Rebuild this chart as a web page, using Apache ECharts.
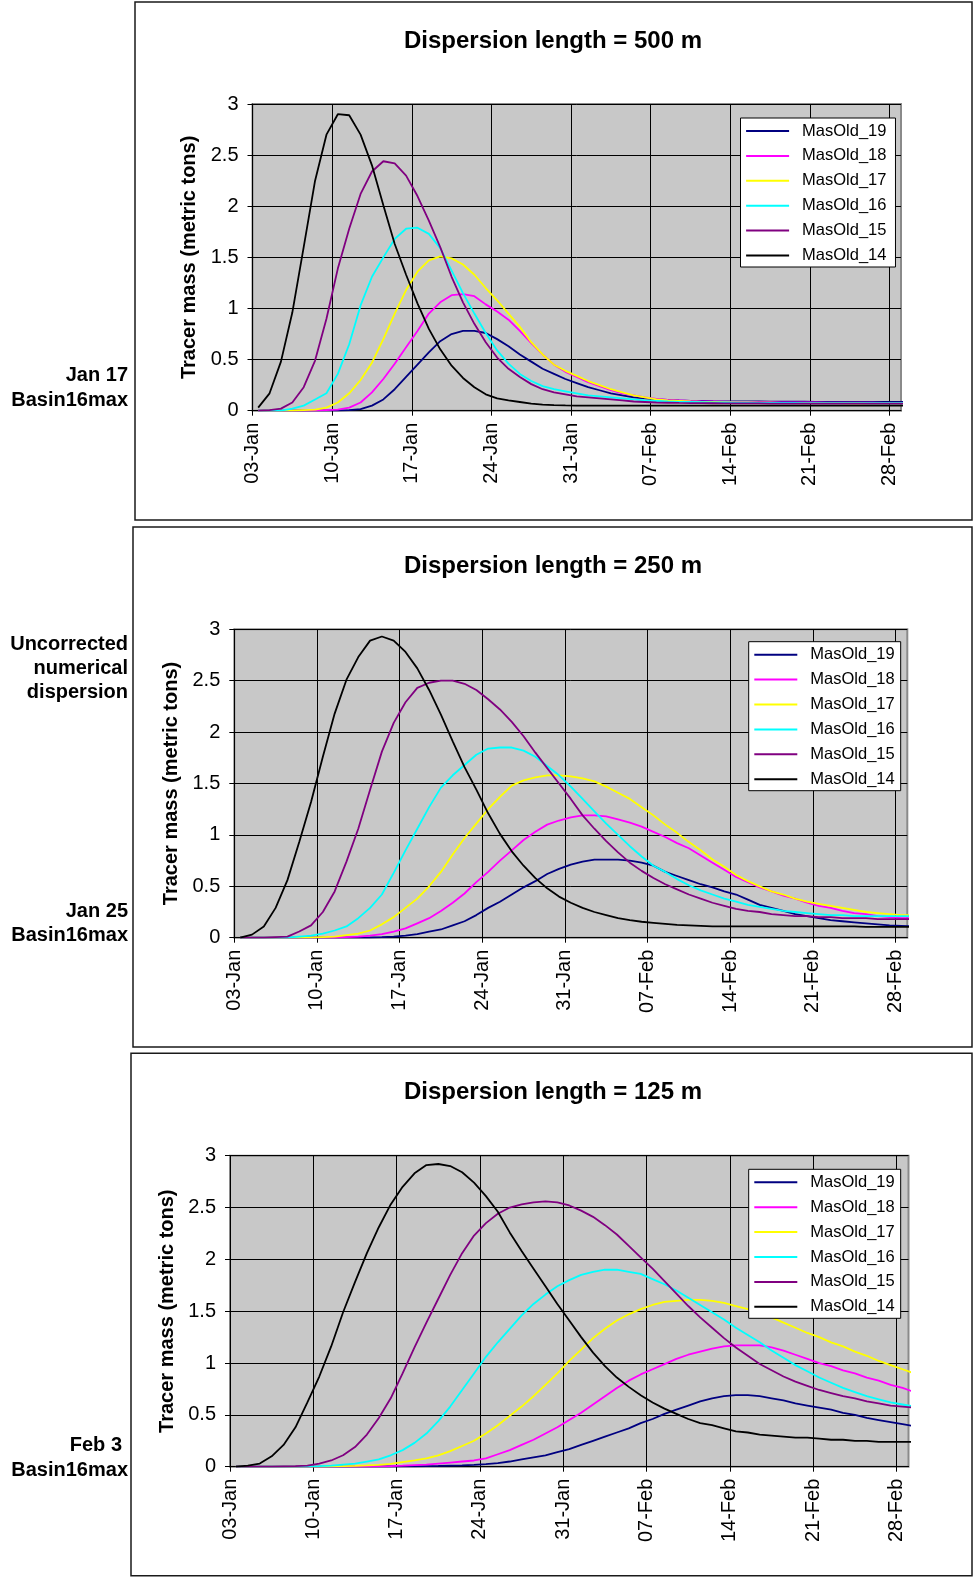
<!DOCTYPE html>
<html>
<head>
<meta charset="utf-8">
<script src="https://cdn.jsdelivr.net/npm/echarts@6/dist/echarts.min.js"></script>
<style>
  html, body { margin: 0; padding: 0; background: #fff; }
  #chart { width: 975px; height: 1579px; }
</style>
</head>
<body>
<div id="chart"></div>
<script>
// series names / colours (legend order)
const seriesNames = ['MasOld_19', 'MasOld_18', 'MasOld_17', 'MasOld_16', 'MasOld_15', 'MasOld_14']
const seriesColors = ['#000080', '#FF00FF', '#FFFF00', '#00FFFF', '#800080', '#000000']
const xTickLabels = ['03-Jan', '10-Jan', '17-Jan', '24-Jan', '31-Jan', '07-Feb', '14-Feb', '21-Feb', '28-Feb']

// daily values (one per day from 03-Jan), dispersion length 500 m
const p1_19 = [0,0,0,0,0,0,0,0.002, 0.005,0.015,0.05,0.11,0.21, 0.33,0.45,0.57,0.68,0.75,0.78,0.78, 0.76,0.70,0.63,0.55,0.48,0.41,0.36,0.31, 0.27,0.23,0.20,0.17,0.15,0.13,0.12,0.11, 0.105,0.10,0.097,0.095,0.093,0.092,0.091,0.09,0.09,0.089,0.089,0.088,0.088,0.087,0.087,0.087,0.086,0.086,0.086,0.085,0.085,0.085]
const p1_18 = [0,0,0,0,0,0,0.005, 0.01,0.03,0.08,0.18,0.31,0.46, 0.62,0.78,0.95,1.06,1.13,1.14,1.12, 1.04,0.97,0.89,0.78,0.66,0.55,0.45,0.38, 0.33,0.28,0.24,0.20,0.17,0.15,0.13,0.115, 0.105,0.10,0.095,0.092,0.09,0.088,0.086,0.085,0.084,0.083,0.082,0.081,0.08,0.08,0.079,0.079,0.078,0.078,0.078,0.077,0.077,0.077]
const p1_17 = [0,0,0,0,0.005,0.01, 0.03,0.08,0.17,0.30,0.47,0.70,0.95, 1.18,1.36,1.47,1.51,1.49,1.43,1.33, 1.20,1.08,0.95,0.82,0.67,0.55,0.45,0.39, 0.34,0.29,0.25,0.21,0.18,0.15,0.13,0.11, 0.10,0.095,0.09,0.087,0.085,0.083,0.081,0.08,0.079,0.078,0.077,0.076,0.075,0.075,0.074,0.074,0.073,0.073,0.072,0.072,0.072,0.071]
const p1_16 = [0,0,0,0.02,0.05,0.11,0.17, 0.36,0.65,1.03,1.31,1.50,1.68,1.78, 1.79,1.73,1.59,1.37,1.15,0.95,0.76, 0.59,0.46,0.36,0.29,0.24,0.21,0.19,0.17, 0.15,0.14,0.13,0.12,0.11,0.10,0.095, 0.09,0.087,0.085,0.083,0.081,0.08,0.079,0.078,0.077,0.077,0.076,0.076,0.075,0.075,0.075,0.074,0.074,0.074,0.073,0.073,0.073,0.073]
const p1_15 = [0,0.005,0.02,0.08,0.23,0.49,0.90, 1.39,1.78,2.12,2.34,2.44,2.42,2.30, 2.10,1.86,1.60,1.31,1.06,0.85,0.67, 0.52,0.41,0.33,0.26,0.21,0.18,0.16,0.14, 0.13,0.12,0.11,0.10,0.09,0.085,0.08, 0.078,0.076,0.075,0.074,0.073,0.072,0.072,0.071,0.071,0.07,0.07,0.07,0.07,0.07,0.069,0.069,0.069,0.069,0.069,0.069,0.069,0.069]
const p1_14 = [0.03,0.17,0.48,0.96,1.60,2.25,2.70, 2.90,2.89,2.70,2.40,2.01,1.63,1.33, 1.05,0.80,0.60,0.44,0.32,0.23,0.16, 0.12,0.10,0.085,0.07,0.06,0.055,0.052,0.05, 0.05,0.05,0.05,0.05,0.05,0.05,0.05,0.05,0.05,0.05,0.05,0.05,0.05,0.05,0.05,0.05,0.05,0.05,0.05,0.05,0.05,0.05,0.05,0.05,0.05,0.05,0.05,0.05,0.05]

// dispersion length 250 m
const p2_19 = [0,0,0,0,0,0,0,0,0,0,0, 0.002,0.005,0.01,0.02,0.035,0.06,0.08, 0.12,0.16,0.22,0.29,0.35,0.42,0.49,0.55, 0.62,0.67,0.71,0.74,0.76,0.76,0.76,0.75, 0.73,0.70,0.64,0.60,0.56,0.52,0.49,0.45, 0.42,0.37,0.32,0.29,0.26,0.23,0.21,0.19, 0.17,0.16,0.15,0.14,0.13,0.12,0.115,0.11]
const p2_18 = [0,0,0,0,0,0,0,0,0, 0.005,0.01,0.02,0.035,0.06,0.09,0.14, 0.19,0.26,0.34,0.43,0.54,0.64,0.75,0.85, 0.95,1.03,1.10,1.14,1.17,1.19,1.19,1.18, 1.15,1.12,1.08,1.03,0.98,0.92,0.87,0.80, 0.73,0.66,0.59,0.54,0.49,0.45,0.41,0.38, 0.34,0.31,0.29,0.26,0.24,0.23,0.21,0.20,0.19,0.19]
const p2_17 = [0,0,0,0,0,0,0, 0.005,0.01,0.025,0.04,0.07,0.13,0.20, 0.29,0.38,0.50,0.64,0.81,0.97,1.11,1.25, 1.37,1.48,1.53,1.56,1.58,1.58,1.57,1.55, 1.52,1.47,1.41,1.35,1.27,1.19,1.10,1.02, 0.93,0.85,0.76,0.69,0.61,0.55,0.50,0.45, 0.42,0.38,0.35,0.33,0.31,0.29,0.27,0.25,0.24,0.23,0.22,0.22]
const p2_16 = [0,0,0,0,0, 0.01,0.02,0.04,0.07,0.11,0.19,0.29, 0.42,0.63,0.85,1.06,1.27,1.46,1.58,1.68, 1.78,1.84,1.85,1.85,1.82,1.76,1.67,1.58, 1.47,1.35,1.23,1.11,1.00,0.89,0.79,0.70, 0.64,0.57,0.51,0.46,0.42,0.38,0.35,0.32, 0.30,0.28,0.26,0.25,0.24,0.23,0.22,0.22, 0.21,0.21,0.21,0.21,0.21,0.21]
const p2_15 = [0,0,0,0.005,0.01,0.06,0.12, 0.25,0.45,0.74,1.06,1.44,1.81,2.09, 2.29,2.43,2.48,2.50,2.50,2.47,2.41,2.32, 2.22,2.10,1.96,1.80,1.65,1.50,1.35,1.19, 1.06,0.94,0.83,0.73,0.65,0.58,0.52,0.47, 0.42,0.38,0.34,0.31,0.28,0.26,0.25,0.23, 0.22,0.21,0.21,0.20,0.20,0.19,0.19,0.19,0.18,0.18,0.18,0.18]
const p2_14 = [0,0.03,0.11,0.29,0.56,0.93,1.32, 1.76,2.18,2.51,2.73,2.89,2.93,2.89, 2.78,2.62,2.41,2.17,1.91,1.66,1.44,1.21, 1.01,0.84,0.70,0.58,0.48,0.40,0.34,0.29, 0.25,0.22,0.19,0.17,0.155,0.145,0.135,0.125, 0.12,0.115,0.11,0.11,0.11,0.11,0.11,0.11,0.11,0.11,0.11,0.11,0.11,0.11,0.11,0.105,0.105,0.105,0.105,0.105]

// dispersion length 125 m
const p3_19 = [0,0,0,0,0,0,0,0,0,0,0,0, 0.002,0.002,0.003,0.003,0.005,0.007, 0.01,0.013,0.018,0.025,0.035,0.05,0.07,0.09, 0.11,0.14,0.17,0.21,0.25,0.29,0.33,0.37, 0.42,0.46,0.51,0.55,0.59,0.63,0.66,0.68, 0.69,0.69,0.68,0.66,0.64,0.61,0.59,0.57, 0.55,0.52,0.50,0.47,0.45,0.43,0.41,0.39]
const p3_18 = [0,0,0,0,0,0,0,0,0,0,0, 0.002,0.004,0.006,0.01,0.015,0.02,0.03, 0.04,0.05,0.06,0.08,0.12,0.16,0.21,0.26, 0.32,0.38,0.45,0.52,0.60,0.68,0.76,0.83, 0.89,0.94,0.99,1.04,1.08,1.11,1.14,1.16, 1.17,1.17,1.17,1.15,1.12,1.08,1.04,1.00, 0.97,0.93,0.90,0.86,0.83,0.79,0.76,0.72]
const p3_17 = [0,0,0,0,0,0,0,0, 0.003,0.005,0.008,0.012,0.018,0.028, 0.045,0.06,0.08,0.11,0.15,0.20,0.25,0.32, 0.40,0.49,0.58,0.68,0.79,0.90,1.02,1.13, 1.24,1.33,1.41,1.47,1.52,1.56,1.59,1.60, 1.61,1.61,1.60,1.58,1.55,1.52,1.48,1.44, 1.39,1.34,1.29,1.25,1.20,1.16,1.11,1.07,1.02,0.98,0.94,0.90]
const p3_16 = [0,0,0,0,0,0, 0.002,0.005,0.01,0.02,0.03,0.05,0.07,0.11, 0.16,0.23,0.32,0.44,0.58,0.74,0.90,1.06, 1.20,1.33,1.46,1.57,1.66,1.74,1.80,1.85, 1.88,1.90,1.90,1.88,1.86,1.81,1.76,1.70, 1.63,1.56,1.49,1.42,1.34,1.27,1.20,1.12, 1.05,0.98,0.92,0.86,0.81,0.76,0.72,0.68,0.65,0.62,0.60,0.58]
const p3_15 = [0,0,0,0,0.003,0.005,0.01,0.03, 0.06,0.11,0.19,0.31,0.47,0.66,0.90,1.15, 1.39,1.62,1.85,2.06,2.23,2.35,2.44,2.50, 2.53,2.55,2.56,2.55,2.52,2.47,2.41,2.33, 2.24,2.13,2.02,1.91,1.79,1.67,1.55,1.44, 1.34,1.24,1.15,1.07,0.99,0.93,0.87,0.82, 0.78,0.74,0.71,0.68,0.66,0.63,0.61,0.59,0.58,0.57]
const p3_14 = [0,0.01,0.03,0.10,0.21,0.38,0.62,0.87, 1.16,1.49,1.78,2.06,2.31,2.53,2.70,2.83, 2.91,2.92,2.90,2.84,2.74,2.61,2.46,2.26, 2.08,1.91,1.74,1.57,1.41,1.25,1.10,0.97, 0.86,0.77,0.69,0.62,0.56,0.51,0.46,0.42, 0.40,0.37,0.34,0.33,0.31,0.30,0.29,0.28, 0.28,0.27,0.26,0.26,0.25,0.25,0.24,0.24,0.24,0.24]

const FONT = '"Liberation Sans", Arial, sans-serif'

// layout of the three chart panels (page pixels)
const panels = [
  {
    title: 'Dispersion length = 500 m', titleY: 41.5,
    side: [['Jan 17', 375, 128], ['Basin16max', 400, 128]],
    box: [135, 2, 837, 518],
    grid: { left: 252.5, top: 104, width: 648.5, height: 306.7 },
    legend: { left: 740.5, top: 118, padRight: 9 },
    data: [p1_19, p1_18, p1_17, p1_16, p1_15, p1_14]
  },
  {
    title: 'Dispersion length = 250 m', titleY: 566.5,
    side: [['Uncorrected', 644, 128], ['numerical', 668, 128], ['dispersion', 692, 128],
      ['Jan 25', 911, 128], ['Basin16max', 935, 128]],
    box: [133, 527, 839, 520],
    grid: { left: 234.3, top: 629.3, width: 673, height: 308.4 },
    legend: { left: 748.7, top: 641.7, padRight: 6 },
    data: [p2_19, p2_18, p2_17, p2_16, p2_15, p2_14]
  },
  {
    title: 'Dispersion length = 125 m', titleY: 1092.5,
    side: [['Feb 3', 1445, 122], ['Basin16max', 1470, 128]],
    box: [131, 1053.3, 841, 522.4],
    grid: { left: 230, top: 1155.7, width: 678.5, height: 311 },
    legend: { left: 748.7, top: 1169.3, padRight: 6 },
    data: [p3_19, p3_18, p3_17, p3_16, p3_15, p3_14]
  }
]

const xTickValues = xTickLabels.map((_, k) => k * 7)

const chart = echarts.init(document.getElementById('chart'), null, { renderer: 'canvas' })

const graphics = []
panels.forEach((p) => {
  graphics.push({
    type: 'rect',
    shape: { x: p.box[0], y: p.box[1], width: p.box[2], height: p.box[3] },
    style: { fill: 'none', stroke: '#1a1a1a', lineWidth: 1.5 },
    z: 100
  })
  graphics.push({
    type: 'text', x: 553, y: p.titleY,
    style: {
      text: p.title, fontSize: 24, fontWeight: 'bold', fontFamily: FONT, fill: '#000',
      align: 'center', verticalAlign: 'middle', textAlign: 'center', textVerticalAlign: 'middle'
    }
  })
  p.side.forEach((s) => {
    graphics.push({
      type: 'text', x: s[2], y: s[1],
      style: {
        text: s[0], fontSize: 20, fontWeight: 'bold', fontFamily: FONT, fill: '#000',
        align: 'right', verticalAlign: 'middle', textAlign: 'right', textVerticalAlign: 'middle'
      }
    })
  })
})

const option = {
  animation: false,
  backgroundColor: '#fff',
  textStyle: { fontFamily: FONT },
  graphic: graphics,
  grid: panels.map((p) => ({
    left: p.grid.left, top: p.grid.top, width: p.grid.width, height: p.grid.height,
    show: true, backgroundColor: '#C8C8C8', borderColor: '#8a8a8a', borderWidth: 2,
    containLabel: false
  })),
  legend: panels.map((p) => ({
    data: seriesNames,
    orient: 'vertical',
    left: p.legend.left, top: p.legend.top,
    icon: 'rect', itemWidth: 43, itemHeight: 2, itemGap: 6.9,
    padding: [4, p.legend.padRight, 2.5, 5.6],
    backgroundColor: '#fff', borderColor: '#000', borderWidth: 1, borderRadius: 0,
    selectedMode: false,
    textStyle: { fontSize: 16.5, lineHeight: 18, color: '#000', fontFamily: FONT, padding: [0, 0, 0, 8] }
  })),
  xAxis: panels.map((p, k) => ({
    gridIndex: k, type: 'value', min: 0, max: 57, interval: 7,
    axisLine: { show: true, onZero: false, lineStyle: { color: '#000', width: 1 } },
    axisTick: { show: true, length: 5, customValues: xTickValues, lineStyle: { color: '#000' } },
    axisLabel: {
      customValues: xTickValues, rotate: 90, margin: 12, fontSize: 20, color: '#000', fontFamily: FONT,
      formatter: (v) => (v % 7 === 0 ? xTickLabels[v / 7] : '')
    },
    splitLine: { show: true, lineStyle: { color: '#000', width: 1 } }
  })),
  yAxis: panels.map((p, k) => ({
    gridIndex: k, type: 'value', min: 0, max: 3, interval: 0.5,
    name: 'Tracer mass (metric tons)', nameLocation: 'middle', nameGap: 49,
    nameTextStyle: { fontSize: 20, fontWeight: 'bold', color: '#000', fontFamily: FONT },
    axisLine: { show: true, lineStyle: { color: '#000', width: 1 } },
    axisTick: { show: true, length: 5, lineStyle: { color: '#000' } },
    axisLabel: { margin: 14, fontSize: 20, color: '#000', fontFamily: FONT },
    splitLine: { show: true, lineStyle: { color: '#000', width: 1 } }
  })),
  series: []
}

panels.forEach((p, k) => {
  p.data.forEach((vals, j) => {
    option.series.push({
      name: seriesNames[j],
      type: 'line',
      xAxisIndex: k, yAxisIndex: k,
      symbol: 'none', showSymbol: false,
      clip: true, silent: true,
      itemStyle: { color: seriesColors[j] },
      lineStyle: { color: seriesColors[j], width: 1.8 },
      // samples sit at midday of each date
      data: vals.map((v, i) => [i + 0.5, v])
    })
  })
})

chart.setOption(option)
</script>
</body>
</html>
